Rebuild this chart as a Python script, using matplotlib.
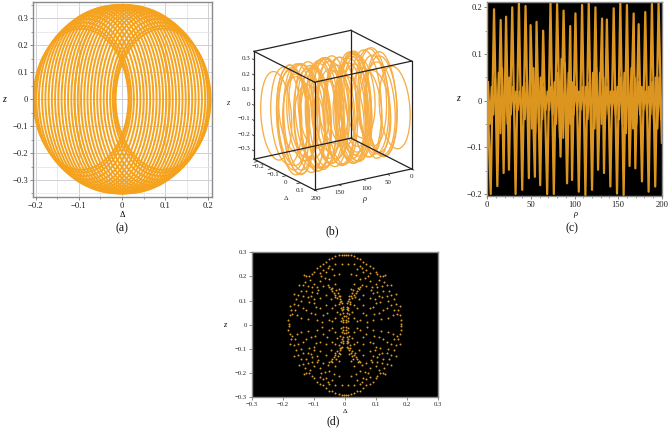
import numpy as np
import matplotlib
matplotlib.use("Agg")
import matplotlib.pyplot as plt
from matplotlib.patches import Ellipse
from mpl_toolkits.mplot3d import art3d

plt.rcParams['font.family'] = ['Liberation Serif', 'DejaVu Sans']

# Panel (a): anillos (centro, semiejes)
ring_c = [0, .0075, .015, .0225, .03, .0375, .045, .0525, .06, .0675, .075, .0825, .0885, .092, .095]
ring_b = [.350, .350, .349, .348, .346, .343, .339, .334, .328, .320, .310, .298, .285, .272, .262]
ring_a = 0.11

# Panel (b): anillos a lo largo de rho
rho_b = [3, 8, 13, 18, 23, 28, 33, 38, 43, 48, 53, 58, 63, 68, 73, 78, 83, 88, 93, 98,
         103, 108, 113, 118, 123, 128, 133, 138, 143, 148, 153, 158, 163, 168, 173, 178, 183, 188, 193, 198,
         15, 30, 45, 60, 75, 90, 105, 120, 135, 150, 165, 180, 190]
c_b = [.09, -.06, .03, .05, -.09, .07, -.01, -.07, .09, -.03, -.04, .08, -.08, .02, .06, -.09, .05, .01, -.07, .09,
       -.05, -.02, .07, -.09, .06, .00, -.06, .09, -.07, .03, .04, -.09, .08, -.02, -.05, .09, -.06, .01, .06, -.08,
       -.02, .04, -.05, .01, .03, -.04, .05, -.01, .02, -.06, .04, -.03, .05]
b_b = [.267, .316, .342, .327, .267, .303, .349, .303, .267, .342, .335, .287, .287, .346, .316, .267, .327, .349, .303, .267,
       .327, .346, .303, .267, .316, .35, .316, .267, .303, .342, .335, .267, .287, .346, .327, .267, .316, .349, .316, .287,
       .346, .335, .327, .349, .342, .335, .327, .349, .346, .316, .335, .342, .327]

# Etiquetas de (b), posicion en pixeles de la figura
z_ticks_b = [.3, .2, .1, 0, -.1, -.2, -.3]
z_pos_b = [59, 74, 89, 104, 119, 134, 149]
delta_ticks_b = [-.2, -.1, 0, .1]
delta_pos_b = [(258, 167), (273, 174), (285, 182), (300, 190)]
rho_ticks_b = [200, 150, 100, 50, 0]
rho_pos_b = [(316, 198), (340, 193), (367, 188), (388, 182), (412, 177)]

# Panel (c): maximos y minimos de la serie
rho_c = [0, 3.9, 7.7, 11.5, 15.3, 18.7, 21.5, 24.8, 28.6, 32.4, 36.2, 40, 43.8, 47.6, 49.6, 54.5, 56.4,
         60.6, 64, 68.6, 72.4, 76.2, 80, 83.9, 87.4, 91.4, 95, 97.1, 101, 104.8, 108.6, 112.4, 116.2,
         120, 123.9, 126.9, 131.5, 133.7, 137, 141, 144.8, 148.6, 152.4, 156.2, 160, 163, 167.7, 169.6,
         173.4, 177.2, 181, 184.8, 188.6, 192.4, 196.2, 200]
z_c = [.03, -.2, .196, -.183, .173, -.155, .18, -.148, .2, -.2, .21, -.191, .203, -.166, .162, -.163, .169,
       -.181, .15, -.2, .21, -.2, .207, -.12, .193, -.177, .16, -.17, .187, -.195, .205, -.202, .21,
       -.191, .2, -.148, .176, -.155, .174, -.184, .198, -.199, .209, -.202, .205, -.14, .187, -.145,
       .164, -.173, .19, -.195, .207, -.184, .209, -.09]

# Oscilacion pequena que rellena la banda central
rho_mid = [1, 3, 5, 7, 9, 11, 13, 15, 17, 19, 21, 23, 25, 27, 29, 31, 33, 35, 37, 39, 41, 43, 45, 47, 49,
           51, 53, 55, 57, 59, 61, 63, 65, 67, 69, 71, 73, 75, 77, 79, 81, 83, 85, 87, 89, 91, 93, 95, 97, 99,
           101, 103, 105, 107, 109, 111, 113, 115, 117, 119, 121, 123, 125, 127, 129, 131, 133, 135, 137, 139,
           141, 143, 145, 147, 149, 151, 153, 155, 157, 159, 161, 163, 165, 167, 169, 171, 173, 175, 177, 179,
           181, 183, 185, 187, 189, 191, 193, 195, 197, 199]
z_mid = [.04, -.05, .03, -.03, .05, -.06, .06, -.07, .07, -.06, .06, -.05, .05, -.03, .03, -.02, .02, -.02, .02, -.03,
         .03, -.04, .04, -.05, .05, -.06, .07, -.07, .06, -.05, .05, -.04, .03, -.02, .02, -.02, .03, -.03, .04, -.05,
         .06, -.08, .09, -.08, .08, -.07, .06, -.05, .04, -.03, .03, -.02, .02, -.02, .03, -.03, .03, -.04, .04, -.05,
         .06, -.06, .07, -.07, .06, -.05, .05, -.04, .03, -.03, .02, -.02, .02, -.03, .03, -.04, .05, -.05, .06, -.07,
         .07, -.07, .07, -.06, .05, -.05, .04, -.03, .03, -.02, .02, -.03, .03, -.03, .04, -.05, .05, -.06, .05, -.04]

# Panel (d): puntos del primer cuadrante (la figura es casi simetrica)
dx = [.003, .01, .02, .03, .04, .05, .06, .07, .08, .09, .1, .105, .115, .125, .13,
      .105, .12, .135, .148, .12, .135, .15, .165, .135, .15, .165, .178, .14, .155, .17, .178, .182, .18,
      .005, .01, .006, .012, .008, .015, .02, .03, .04, .05, .003, .01, .015, .025, .045, .018, .006, .012,
      .03, .05, .07, .09, .11, .04, .06, .08, .1, .125, .03, .05, .07, .09, .08, .1, .02, .04, .06, .08, .01, .03, .05, .07,
      .11, .03, .06, .08, .02, .065, .085, .105, .125, .04, .025, .045, .095, .115, .035, .055, .075, .14, .16, .072, .092,
      .012, .004, .016, .022, .035, .028, .042, .055, .015, .007, .112, .128, .142, .158, .172, .098, .088, .058, .032, .118]
dz = [.29, .29, .288, .283, .275, .272, .26, .25, .245, .235, .22, .212, .2, .2, .205,
      .155, .16, .163, .165, .115, .118, .125, .128, .07, .08, .085, .078, .03, .04, .045, .04, .02, .005,
      .01, .03, .05, .07, .09, .105, .118, .125, .14, .155, .035, .06, .12, .11, .148, .085, .075, .015,
      .03, .02, .04, .02, .05, .07, .08, .07, .09, .06, .17, .19, .16, .13, .18, .17, .21, .23, .22, .215, .25, .25, .245, .225,
      .12, .08, .125, .11, .15, .195, .145, .135, .14, .015, .055, .105, .045, .095, .205, .235, .2, .1, .06, .01, .075,
      .098, .02, .095, .13, .132, .142, .152, .165, .045, .065, .185, .178, .14, .105, .06, .105, .155, .05, .115, .025]

orange = '#f5a31e'
gold = '#dc9620'
gris = '#8a8a8a'


def eje(px):
    # px = izquierda, arriba, derecha, abajo en pixeles
    l, t, r, b = px
    return fig.add_axes([l / 668, 1 - b / 436, (r - l) / 668, (b - t) / 436])


def etiquetas(valores):
    return ['0' if v == 0 else (str(v) if v > 0 else '\u2212' + str(-v)) for v in valores]


def marco(ax, size):
    for s in ax.spines.values():
        s.set_color(gris)
        s.set_linewidth(1.0)
    ax.tick_params(labelsize=size, length=2, width=0.5, color='#555555', pad=1.5, labelcolor='#222222')
    ax.tick_params(which='minor', length=1.2, width=0.4, color='#555555')


def rotulo(txt, x, y, size, **kw):
    # texto en pixeles de la figura
    fig.text(x / 668, 1 - y / 436, txt, fontsize=size, ha=kw.pop('ha', 'center'), va='center', color='#222222', **kw)


fig = plt.figure(figsize=(6.68, 4.36), dpi=100)

# ---------- (a)
ax = eje((33.3, 2, 212.3, 197))
for s in [1, -1]:
    for c, b in zip(ring_c, ring_b):
        ax.add_patch(Ellipse((s * c, 0), 2 * ring_a, 2 * b, fill=False, ec=orange, lw=1.4))
ax.set_xlim(-.2055, .209)
ax.set_ylim(-.363, .361)
xt = [-.2, -.1, 0, .1, .2]
yt = [-.3, -.2, -.1, 0, .1, .2, .3]
ax.set_xticks(xt, etiquetas(xt))
ax.set_yticks(yt, etiquetas(yt))
ax.set_xticks([-.15, -.05, .05, .15], minor=True)
ax.set_yticks([-.35, -.25, -.15, -.05, .05, .15, .25, .35], minor=True)
ax.grid(True, which='major', color='#cfcfd6', lw=0.7)
ax.grid(True, which='minor', color='#e6e6ea', lw=0.6)
ax.set_axisbelow(True)
marco(ax, 6.2)
ax.set_xlabel('\u0394', fontsize=6, labelpad=1)
ax.set_ylabel('z', fontsize=7, rotation=0, labelpad=6.5, style='italic', va='center')

# ---------- (b)
ax3 = fig.add_axes([225 / 668, 1 - 223 / 436, 210 / 668, 220 / 436], projection='3d', proj_type='ortho')
ax3.computed_zorder = False
ax3.view_init(elev=19.4, azim=56.8)
ax3.set_box_aspect((116, 111, 114.5), zoom=0.91)
rx = (0, 200)
ry = (-.23, .2)
rz = (-.355, .355)
ax3.set_xlim(*rx)
ax3.set_ylim(*ry)
ax3.set_zlim(*rz)
ax3.set_axis_off()
ax3.patch.set_alpha(0)
for r, c, b in zip(rho_b, c_b, b_b):
    p = Ellipse((c, 0), 2 * ring_a, 2 * b, fill=False, ec='#f7ae45', lw=0.95)
    ax3.add_patch(p)
    art3d.pathpatch_2d_to_3d(p, z=r, zdir='x')
    p.set_zorder(1)
for y in ry:
    for z in rz:
        ax3.plot(rx, (y, y), (z, z), color='#222222', lw=0.9, zorder=3)
for x in rx:
    for z in rz:
        ax3.plot((x, x), ry, (z, z), color='#222222', lw=0.9, zorder=3)
for x in rx:
    for y in ry:
        ax3.plot((x, x), (y, y), rz, color='#222222', lw=0.9, zorder=3)
for v in z_ticks_b:
    ax3.plot((200, 200), (ry[0], ry[0] - .012), (v, v), color='#222222', lw=0.5, zorder=3)
for v in delta_ticks_b:
    ax3.plot((200, 208), (v, v), (rz[0], rz[0]), color='#222222', lw=0.5, zorder=3)
for v in rho_ticks_b:
    ax3.plot((v, v), (ry[1], ry[1] + .016), (rz[0], rz[0]), color='#222222', lw=0.5, zorder=3)
for v, y in zip(z_ticks_b, z_pos_b):
    rotulo(etiquetas([v])[0], 250, y, 5, ha='right')
for v, (x, y) in zip(delta_ticks_b, delta_pos_b):
    rotulo(etiquetas([v])[0], x, y, 5)
for v, (x, y) in zip(rho_ticks_b, rho_pos_b):
    rotulo(str(v), x, y, 5)
rotulo('z', 228, 103, 6, style='italic')
rotulo('\u0394', 286, 198, 5)
rotulo('\u03c1', 364, 199, 6, style='italic')

# ---------- (c)
ax = eje((487.3, 2, 662.3, 195.7))
ax.set_facecolor('black')
ax.plot(rho_mid, z_mid, color=gold, lw=1.4)
ax.plot(rho_c, z_c, color=gold, lw=1.6)
ax.set_xlim(0, 200.5)
ax.set_ylim(-.2036, .2115)
xt = [0, 50, 100, 150, 200]
yt = [-.2, -.1, 0, .1, .2]
ax.set_xticks(xt, etiquetas(xt))
ax.set_yticks(yt, etiquetas(yt))
ax.set_xticks(np.arange(10, 200, 10), minor=True)
ax.set_yticks([-.15, -.05, .05, .15], minor=True)
marco(ax, 6.2)
ax.spines['left'].set_color('#b39b6e')
ax.set_xlabel('\u03c1', fontsize=6, labelpad=1, style='italic')
ax.set_ylabel('z', fontsize=7, rotation=0, labelpad=6, style='italic', va='center')

# ---------- (d)
ax = eje((251.7, 252.3, 437.7, 397.3))
ax.set_facecolor('black')
for sx in [1, -1]:
    for sz in [1, -1]:
        ax.scatter(sx * np.array(dx), sz * np.array(dz), s=2.0, color='#d99a2a', linewidths=0)
ax.set_xlim(-.3, .3)
ax.set_ylim(-.3, .3)
xt = [-.3, -.2, -.1, 0, .1, .2, .3]
ax.set_xticks(xt, etiquetas(xt))
ax.set_yticks(xt, etiquetas(xt))
marco(ax, 4.8)
ax.set_xlabel('\u0394', fontsize=5, labelpad=1)
ax.set_ylabel('z', fontsize=6, rotation=0, labelpad=7, style='italic', va='center')

# ---------- rotulos
for txt, x, y in [('(a)', 122, 228), ('(b)', 332, 231), ('(c)', 572, 228), ('(d)', 333, 421)]:
    fig.text(x / 668, 1 - y / 436, txt, fontsize=8.5, ha='center', va='center', color='#111111')

fig.savefig('out.png', dpi=100)
